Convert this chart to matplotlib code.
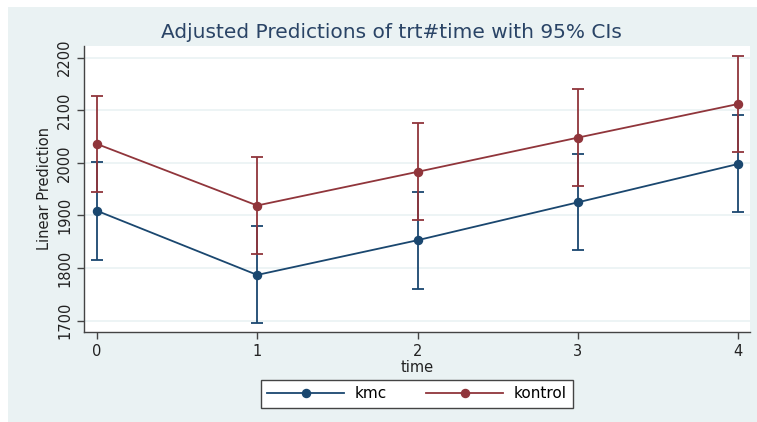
import matplotlib.pyplot as plt
from matplotlib.patches import Rectangle

plt.rcParams['font.family'] = ['DejaVu Sans']

# values
time = [0, 1, 2, 3, 4]
kmc_pred = [1909, 1787, 1853, 1925, 1998]
kmc_lo = [1816, 1695, 1761, 1834, 1906]
kmc_hi = [2001, 1880, 1944, 2017, 2091]
kontrol_pred = [2036, 1919, 1983, 2048, 2112]
kontrol_lo = [1945, 1827, 1891, 1956, 2021]
kontrol_hi = [2128, 2012, 2075, 2140, 2204]

NAVY = '#1a476f'
MAROON = '#90353b'
BG = '#eaf2f3'


def draw_series(ax, pred, lo, hi, color, label):
    yerr = [[p - l for p, l in zip(pred, lo)], [h - p for p, h in zip(pred, hi)]]
    ax.errorbar(time, pred, yerr=yerr, fmt='none', ecolor=color, elinewidth=1.3,
                capsize=4.3, capthick=1.3, zorder=3)
    ax.plot(time, pred, color=color, lw=1.3, marker='o', ms=5.8, label=label, zorder=4)


def main():
    fig = plt.figure(figsize=(7.57, 4.22), dpi=100, facecolor='white')
    fig.patches.append(Rectangle((8 / 757, 0), 1 - 8 / 757, 415 / 422,
                                 transform=fig.transFigure, facecolor=BG,
                                 edgecolor='none', zorder=-5))
    ax = fig.add_axes([0.111, 0.2126, 0.88, 0.6794])
    ax.set_facecolor('white')

    draw_series(ax, kmc_pred, kmc_lo, kmc_hi, NAVY, 'kmc')
    draw_series(ax, kontrol_pred, kontrol_lo, kontrol_hi, MAROON, 'kontrol')

    ax.set_xlim(-0.08, 4.075)
    ax.set_ylim(1678, 2223)
    ax.set_xticks(time)
    ax.set_yticks([1700, 1800, 1900, 2000, 2100, 2200])
    ax.grid(axis='y', color=BG, lw=1.2, zorder=0)
    ax.set_axisbelow(True)

    for side in ['top', 'right']:
        ax.spines[side].set_visible(False)
    for side in ['left', 'bottom']:
        ax.spines[side].set_color('#444444')
        ax.spines[side].set_linewidth(1.0)
    ax.tick_params(colors='#444444', labelcolor='#222222', labelsize=10.5, length=5, width=1.0)
    for lbl in ax.get_yticklabels():
        lbl.set_rotation(90)
        lbl.set_va('center')

    ax.set_xlabel('time', fontsize=10.5, labelpad=1, color='#222222')
    ax.set_ylabel('Linear Prediction', fontsize=10.5, labelpad=4, color='#222222')
    fig.text(391 / 757, 1 - 33 / 422, 'Adjusted Predictions of trt#time with 95% CIs',
             fontsize=14.5, color='#2a4466', ha='center', va='center')

    leg = fig.legend(loc='center', bbox_to_anchor=(417 / 757, 1 - 394 / 422), ncol=2,
                     fontsize=11, frameon=True, fancybox=False, framealpha=1,
                     handlelength=5.0, handletextpad=0.7, columnspacing=2.6, borderpad=0.45)
    leg.get_frame().set_edgecolor('#444444')
    leg.get_frame().set_linewidth(1.0)

    fig.savefig('out.png', dpi=100, facecolor=fig.get_facecolor())


if __name__ == "__main__":
    main()
